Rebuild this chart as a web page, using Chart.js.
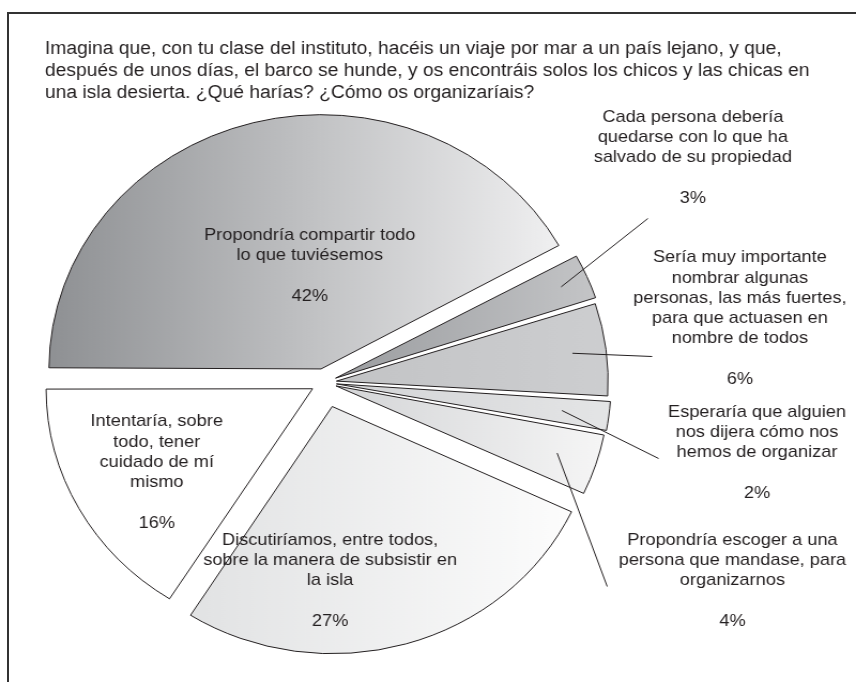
<!DOCTYPE html>
<html>
<head>
<meta charset="utf-8">
<script src="https://cdn.jsdelivr.net/npm/chart.js@4.4.1/dist/chart.umd.min.js"></script>
<style>
  html, body { margin: 0; padding: 0; background: #fff; overflow: hidden; }
  #wrap { position: relative; width: 856px; height: 682px; }
  #frame { position: absolute; left: 7px; top: 12px; right: -5px; bottom: -5px;
           border-top: 2px solid #333; border-left: 2px solid #333; }
  #pie { position: absolute; left: 0; top: 0; transform: scale(1.07, 1); transform-origin: 0 0; }
</style>
</head>
<body>
<div id="wrap">
  <div id="frame"></div>
  <canvas id="pie" width="800" height="682"></canvas>
</div>
<script>
// question shown above the pie
var TITLE_LINES = [
  "Imagina que, con tu clase del instituto, hacéis un viaje por mar a un país lejano, y que,",
  "después de unos días, el barco se hunde, y os encontráis solos los chicos y las chicas en",
  "una isla desierta. ¿Qué harías? ¿Cómo os organizaríais?"
];

// answers, clockwise from 9 o'clock
var ANSWERS = [
  ["Propondría compartir todo", "lo que tuviésemos"],
  ["Cada persona debería", "quedarse con lo que ha", "salvado de su propiedad"],
  ["Sería muy importante", "nombrar algunas", "personas, las más fuertes,", "para que actuasen en", "nombre de todos"],
  ["Esperaría que alguien", "nos dijera cómo nos", "hemos de organizar"],
  ["Propondría escoger a una", "persona que mandase, para", "organizarnos"],
  ["Discutiríamos, entre todos,", "sobre la manera de subsistir en", "la isla"],
  ["Intentaría, sobre", "todo, tener", "cuidado de mí", "mismo"]
];
var SHARE = [42, 3, 6, 2, 4, 27, 16];

// look of the slices
var FILL_LEFT  = ["#8f9194", "#9c9ea1", "#c3c4c6", "#d4d5d7", "#d5d6d8", "#e2e3e4", "#ffffff"];
var FILL_RIGHT = ["#eeeeef", "#c4c5c7", "#cdced0", "#e4e5e6", "#f6f6f6", "#fdfdfd", "#ffffff"];
var EXPLODE = [56, 44, 44, 44, 44, 100, 52];
var PIE_RADIUS = 247;
var INK = "#231f20";
var FONT = "17px 'Liberation Sans', Arial, sans-serif";
var TITLE_FONT = "18px 'Liberation Sans', Arial, sans-serif";
var LINE_H = 20.3;

// text block centres relative to the pie centre
var LABEL_AT = [[-14, -117], [344, -225], [388, -64], [404, 70], [381, 198], [5, 198], [-157, 90]];
// leader lines: start inside the slice (radius fraction), end relative to pie centre
var LEADERS = [null, { r: 0.93, to: [302, -164] }, { r: 0.9, to: [306, -26] },
  { r: 0.86, to: [312, 76] }, { r: 0.88, to: [264, 204] }, null, null];

function sliceAngles(i) {
  var total = SHARE.reduce(function(a, b) { return a + b; }, 0);
  var a0 = -Math.PI;
  for (var k = 0; k < i; k++) a0 += SHARE[k] / total * 2 * Math.PI;
  return [a0, a0 + SHARE[i] / total * 2 * Math.PI];
}

function sliceFill(c) {
  var chart = c.chart, area = chart.chartArea;
  var i = c.dataIndex;
  if (!area) return FILL_LEFT[i];
  var ang = sliceAngles(i);
  var mid = (ang[0] + ang[1]) / 2;
  var cx = (area.left + area.right) / 2 + Math.cos(mid) * EXPLODE[i] / 4;
  var xs = [0, Math.cos(ang[0]), Math.cos(ang[1])];
  if (ang[0] <= -Math.PI + 1e-6) xs.push(-1);
  if (ang[0] <= 0 && ang[1] >= 0) xs.push(1);
  var x0 = cx + Math.min.apply(null, xs) * PIE_RADIUS;
  var x1 = cx + Math.max.apply(null, xs) * PIE_RADIUS;
  var g = chart.ctx.createLinearGradient(x0, 0, x1, 0);
  g.addColorStop(0, FILL_LEFT[i]);
  g.addColorStop(1, FILL_RIGHT[i]);
  return g;
}

var sliceText = {
  id: "sliceText",
  afterDatasetsDraw: function(chart) {
    var ctx = chart.ctx;
    var area = chart.chartArea;
    var cx = (area.left + area.right) / 2, cy = (area.top + area.bottom) / 2;
    var meta = chart.getDatasetMeta(0);
    ctx.save();
    ctx.font = FONT;
    ctx.fillStyle = INK;
    ctx.strokeStyle = INK;
    ctx.lineWidth = 1;
    ctx.textAlign = "center";
    ctx.textBaseline = "middle";
    meta.data.forEach(function(arc, i) {
      var p = arc.getProps(["x", "y", "startAngle", "endAngle", "outerRadius"], true);
      var mid = (p.startAngle + p.endAngle) / 2;
      var ox = p.x + Math.cos(mid) * EXPLODE[i] / 4;
      var oy = p.y + Math.sin(mid) * EXPLODE[i] / 4;
      var lead = LEADERS[i];
      if (lead) {
        var r = lead.r * p.outerRadius;
        ctx.beginPath();
        ctx.moveTo(ox + Math.cos(mid) * r, oy + Math.sin(mid) * r);
        ctx.lineTo(cx + lead.to[0], cy + lead.to[1]);
        ctx.stroke();
      }
      var lines = ANSWERS[i].concat(["", SHARE[i] + "%"]);
      var top = cy + LABEL_AT[i][1] - (lines.length - 1) * LINE_H / 2;
      lines.forEach(function(t, k) {
        ctx.fillText(t, cx + LABEL_AT[i][0], top + k * LINE_H);
      });
    });
    ctx.font = TITLE_FONT;
    ctx.textAlign = "left";
    TITLE_LINES.forEach(function(t, k) {
      ctx.fillText(t, 42, 49 + k * 22);
    });
    ctx.restore();
  }
};

new Chart(document.getElementById("pie"), {
  type: "pie",
  data: {
    labels: ANSWERS.map(function(a) { return a.join(" "); }),
    datasets: [{
      data: SHARE,
      backgroundColor: sliceFill,
      borderColor: INK,
      borderWidth: 1,
      borderJoinStyle: "miter",
      offset: EXPLODE
    }]
  },
  options: {
    responsive: false,
    animation: false,
    rotation: -90,
    radius: PIE_RADIUS,
    layout: { padding: { left: 0, right: 193, top: 83, bottom: 0 } },
    plugins: {
      legend: { display: false },
      tooltip: { enabled: false },
      title: { display: false }
    }
  },
  plugins: [sliceText]
});
</script>
</body>
</html>
